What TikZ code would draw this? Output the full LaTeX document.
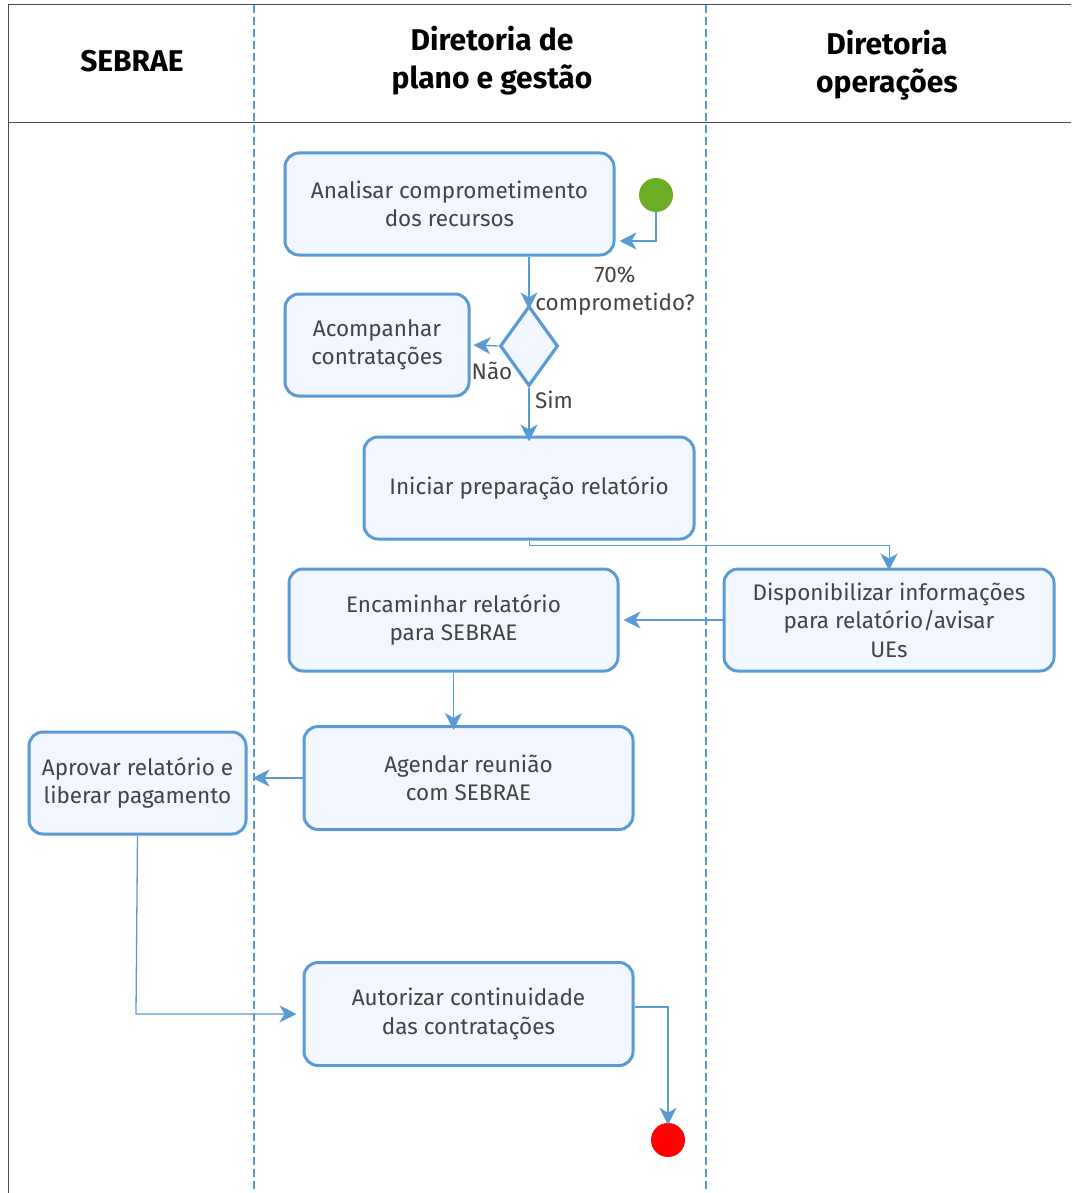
\documentclass[tikz,border=0pt]{standalone}
\usepackage{fontspec}
\setmainfont{Fira Sans}
\usetikzlibrary{shapes.geometric,arrows.meta}
\definecolor{bblue}{HTML}{5B9BD5}
\definecolor{bfill}{HTML}{F2F6FE}
\definecolor{tgrey}{HTML}{444444}
\definecolor{sgreen}{RGB}{107,174,36}
\begin{document}
\begin{tikzpicture}[x=1pt,y=-1pt,
  act/.style={draw=bblue,fill=bfill,line width=3pt,rounded corners=14pt,
    text=tgrey,font=\fontsize{22.5}{28.5}\selectfont,align=center,inner sep=0pt},
  dec/.style={diamond,draw=bblue,fill=bfill,line width=3.2pt,minimum width=58pt,minimum height=80pt,inner sep=0pt,aspect=0.725},
  conn/.style={draw=bblue,line width=1.3pt,-{Stealth[length=17pt,width=17pt,inset=5pt]}},
  lbl/.style={text=tgrey,font=\fontsize{22.5}{28.5}\selectfont,align=center,inner sep=0pt},
  hdr/.style={font=\bfseries\fontsize{30}{38}\selectfont,align=center,text=black,inner sep=0pt},
  lane/.style={draw=bblue,line width=1.6pt,dash pattern=on 8pt off 4pt}]
\useasboundingbox (0,0) rectangle (1071,1193);
\fill[white] (0,0) rectangle (1071,1193);
% frame
\draw[black!70,line width=1pt] (8,1193) -- (8,5) -- (1071,5);
\draw[black!70,line width=1pt] (8,123) -- (1071,123);
\draw[lane] (254,5) -- (254,1193);
\draw[lane] (706,5) -- (706,1193);
% headers
\node[hdr] (h1) at (132,61) {SEBRAE};
\node[hdr] (h2) at (492,61) {Diretoria de\\plano e gestão};
\node[hdr] (h3) at (887,65) {Diretoria\\operações};
% nodes
\node[act,minimum width=329pt,minimum height=102pt] (analisar) at (449.5,204) {Analisar comprometimento\\dos recursos};
\node[circle,fill=sgreen,minimum size=34pt,inner sep=0pt] (start) at (656,195) {};
\node[act,minimum width=184pt,minimum height=102pt] (acomp) at (377,345) {Acompanhar\\contratações};
\node[dec] (dec) at (529,346) {};
\node[lbl] (q) at (615,291) {70\%\\comprometido?};
\node[act,minimum width=330pt,minimum height=102pt] (iniciar) at (529,488) {Iniciar preparação relatório};
\node[act,minimum width=330pt,minimum height=102pt] (disp) at (889,620) {Disponibilizar informações\\para relatório/avisar\\UEs};
\node[act,minimum width=329pt,minimum height=102pt] (encam) at (453.5,620) {Encaminhar relatório\\para SEBRAE};
\node[act,minimum width=329pt,minimum height=103pt] (agendar) at (468.5,778) {Agendar reunião\\com SEBRAE};
\node[act,minimum width=217pt,minimum height=102pt] (aprovar) at (137.5,783) {Aprovar relatório e\\liberar pagamento};
\node[act,minimum width=329pt,minimum height=103pt] (autor) at (468.5,1014) {Autorizar continuidade\\das contratações};
\node[circle,fill=red,minimum size=34pt,inner sep=0pt] (stop) at (668,1140) {};
% connectors
\coordinate (sa) at (analisar.east |- 0,241);
\draw[conn] (start.south) |- ([xshift=4pt]sa);
\draw[conn] (analisar.south -| dec.north) -- ([yshift=-5pt]dec.north);
\draw[conn] (dec.west) -- ([xshift=3pt]acomp.east);
\node[lbl] (nao) at (492,371) {Não};
\draw[conn] (dec.south) -- ([yshift=-6pt]iniciar.north);
\node[lbl] (sim) at (554,400) {Sim};
\coordinate (ib) at (529,545);
\draw[conn,line width=0.9pt] (iniciar.south) -- (ib) -| ([yshift=-3pt]disp.north);
\draw[conn] (disp.west) -- ([xshift=4pt]encam.east);
\draw[conn] (encam.south) -- ([yshift=-5pt]agendar.north -| encam.south);
\draw[conn] (agendar.west) -- ([xshift=5pt]aprovar.east |- agendar.west);
\coordinate (ab) at (136,1014);
\draw[conn] (aprovar.south) -- (ab) -- ([xshift=-6pt]autor.west);
\coordinate (ar) at (autor.east |- 0,1007);
\draw[conn] (ar) -| ([yshift=-2pt]stop.north);
\end{tikzpicture}
\end{document}
